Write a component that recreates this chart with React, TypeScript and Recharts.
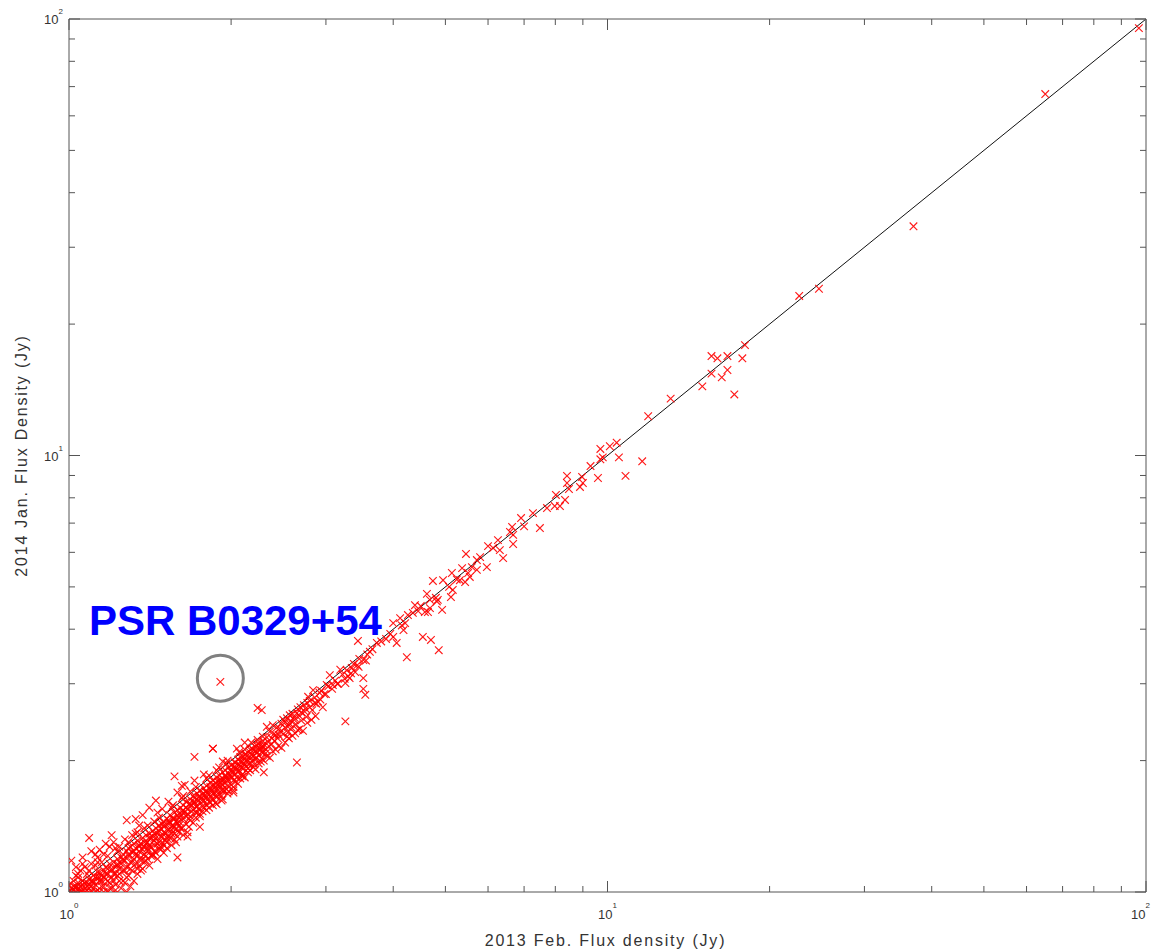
import React from "react";
import {
  ScatterChart,
  Scatter,
  XAxis,
  YAxis,
  ReferenceLine,
  ReferenceDot,
} from "recharts";

type Pair = [number, number];

// [2013 Feb flux, 2014 Jan flux] in Jy
const faintA: Pair[] = [
  [1.0, 1.0], [1.01, 1.0], [1.02, 1.01], [1.01, 1.02], [1.03, 1.0], [1.03, 1.02], [1.04, 1.01],
  [1.05, 1.03], [1.04, 1.05], [1.06, 1.0], [1.06, 1.04], [1.07, 1.02], [1.08, 1.05], [1.08, 1.01],
  [1.09, 1.07], [1.1, 1.03], [1.1, 1.06], [1.11, 1.09], [1.12, 1.04], [1.12, 1.08], [1.13, 1.01],
  [1.13, 1.11], [1.14, 1.06], [1.15, 1.09], [1.15, 1.03], [1.16, 1.12], [1.17, 1.07], [1.17, 1.14],
  [1.18, 1.1], [1.19, 1.05], [1.19, 1.16], [1.2, 1.12], [1.2, 1.08], [1.21, 1.17], [1.22, 1.14],
  [1.22, 1.1], [1.23, 1.19], [1.24, 1.13], [1.24, 1.06], [1.25, 1.2], [1.25, 1.16],
  [1.01, 1.18], [1.09, 1.33], [1.17, 1.29], [1.05, 1.12], [1.12, 1.22], [1.14, 1.25], [1.07, 1.14],
  [1.21, 1.3], [1.03, 1.09], [1.19, 1.27], [1.27, 1.05], [1.16, 1.03], [1.1, 1.0], [1.2, 1.02],
  [1.05, 1.0], [1.14, 1.0], [1.22, 1.04], [1.04, 1.1], [1.1, 1.16], [1.16, 1.22], [1.22, 1.26],
  [1.27, 1.32], [1.06, 1.16], [1.13, 1.2],
];

const faintB: Pair[] = [
  [1.26, 1.22], [1.27, 1.18], [1.28, 1.24], [1.28, 1.14], [1.29, 1.21], [1.3, 1.27], [1.3, 1.17],
  [1.31, 1.23], [1.32, 1.29], [1.32, 1.19], [1.33, 1.26], [1.34, 1.21], [1.34, 1.31], [1.35, 1.24],
  [1.36, 1.29], [1.36, 1.18], [1.37, 1.33], [1.38, 1.27], [1.38, 1.22], [1.39, 1.35], [1.4, 1.3],
  [1.4, 1.24], [1.41, 1.36], [1.42, 1.33], [1.42, 1.27], [1.43, 1.38], [1.44, 1.31], [1.44, 1.24],
  [1.45, 1.4], [1.46, 1.36], [1.46, 1.29], [1.47, 1.42], [1.48, 1.34], [1.48, 1.4], [1.49, 1.3],
  [1.5, 1.45], [1.5, 1.37], [1.51, 1.42], [1.52, 1.33], [1.52, 1.47], [1.53, 1.39], [1.54, 1.44],
  [1.54, 1.5], [1.55, 1.36], [1.56, 1.48], [1.56, 1.42], [1.57, 1.52], [1.58, 1.45], [1.58, 1.39],
  [1.59, 1.54], [1.6, 1.48], [1.6, 1.42],
  [1.28, 1.46], [1.41, 1.56], [1.53, 1.61], [1.59, 1.69], [1.64, 1.76], [1.35, 1.42], [1.46, 1.52],
  [1.31, 1.35], [1.49, 1.55], [1.52, 1.26], [1.59, 1.2], [1.66, 1.34], [1.59, 1.34], [1.66, 1.37],
  [1.43, 1.22], [1.57, 1.32], [1.36, 1.12], [1.48, 1.25],
];

const faintC: Pair[] = [
  [1.61, 1.56], [1.62, 1.5], [1.63, 1.58], [1.64, 1.52], [1.65, 1.61], [1.66, 1.55], [1.67, 1.47],
  [1.68, 1.63], [1.69, 1.58], [1.7, 1.66], [1.71, 1.6], [1.72, 1.52], [1.73, 1.68], [1.74, 1.62],
  [1.75, 1.71], [1.76, 1.64], [1.77, 1.57], [1.78, 1.73], [1.79, 1.67], [1.8, 1.75], [1.81, 1.68],
  [1.82, 1.61], [1.83, 1.78], [1.84, 1.71], [1.85, 1.8], [1.86, 1.73], [1.87, 1.66], [1.88, 1.83],
  [1.89, 1.76], [1.9, 1.85], [1.91, 1.78], [1.92, 1.71], [1.93, 1.88], [1.94, 1.81], [1.95, 1.9],
  [1.96, 1.83], [1.97, 1.75], [1.98, 1.93], [1.99, 1.85], [2.0, 1.95], [2.01, 1.88], [2.02, 1.8],
  [2.04, 1.98], [2.05, 1.91], [2.06, 2.01], [2.08, 1.94], [2.09, 1.85], [2.1, 2.04], [2.11, 1.97],
  [2.13, 2.07], [2.14, 1.99], [2.15, 1.92], [2.16, 2.1], [2.18, 2.03], [2.19, 2.13], [2.2, 2.05],
  [2.21, 1.96], [2.23, 2.17], [2.24, 2.09], [2.25, 2.19], [2.27, 2.12], [2.28, 2.02], [2.29, 2.22],
  [2.3, 2.15],
  [1.8, 1.54], [1.92, 1.62], [2.02, 1.69], [1.75, 1.51], [1.88, 1.59], [2.1, 1.84], [1.97, 1.68],
  [1.85, 1.58], [1.71, 1.8], [1.85, 2.13], [1.93, 1.99], [2.05, 2.13], [1.78, 1.86], [2.12, 2.2],
  [1.71, 2.04], [1.57, 1.84], [1.93, 1.63], [1.75, 1.41], [2.02, 1.71], [1.85, 2.13],
];

const faintFill: Pair[] = [
  [1.02, 1.03], [1.04, 1.02], [1.06, 1.06], [1.07, 1.05], [1.09, 1.04], [1.11, 1.06], [1.11, 1.02],
  [1.13, 1.08], [1.14, 1.11], [1.16, 1.08], [1.18, 1.13], [1.18, 1.06], [1.21, 1.1], [1.23, 1.15],
  [1.23, 1.09], [1.26, 1.18], [1.27, 1.12], [1.29, 1.26], [1.31, 1.17], [1.33, 1.22], [1.35, 1.28],
  [1.37, 1.25], [1.39, 1.29], [1.39, 1.21], [1.41, 1.28], [1.43, 1.34], [1.45, 1.33], [1.47, 1.3],
  [1.49, 1.43], [1.51, 1.36], [1.53, 1.46], [1.55, 1.41], [1.57, 1.47], [1.59, 1.44], [1.61, 1.5],
  [1.63, 1.54], [1.65, 1.49], [1.67, 1.59], [1.69, 1.53], [1.71, 1.64], [1.73, 1.57], [1.75, 1.66],
  [1.77, 1.63], [1.79, 1.7], [1.81, 1.63], [1.83, 1.74], [1.85, 1.68], [1.87, 1.78], [1.89, 1.71],
  [1.91, 1.81], [1.93, 1.76], [1.95, 1.84], [1.97, 1.8], [1.99, 1.9], [2.01, 1.83], [2.03, 1.94],
  [2.06, 1.88], [2.08, 1.99], [2.11, 1.92], [2.14, 2.05], [2.17, 1.98], [2.2, 2.11], [2.23, 2.03],
  [2.26, 2.16], [2.29, 2.08],
  [1.08, 1.1], [1.15, 1.17], [1.24, 1.27], [1.33, 1.36], [1.44, 1.45], [1.56, 1.58], [1.68, 1.7],
  [1.82, 1.85], [1.96, 1.97], [2.12, 2.12], [1.02, 1.06], [1.12, 1.15], [1.38, 1.4], [1.62, 1.64],
  [1.9, 1.93],
];

// lower edge of the dense band (2014 noticeably fainter)
const faintLow: Pair[] = [
  [1.18, 1.0], [1.22, 1.01], [1.25, 1.02], [1.28, 1.0], [1.3, 1.03], [1.26, 1.06], [1.29, 1.09],
  [1.32, 1.06], [1.31, 1.12], [1.34, 1.1], [1.35, 1.15], [1.37, 1.13], [1.38, 1.17], [1.4, 1.19],
  [1.41, 1.15], [1.43, 1.21], [1.45, 1.23], [1.46, 1.19], [1.48, 1.27], [1.5, 1.28], [1.5, 1.23],
  [1.52, 1.3], [1.54, 1.33], [1.55, 1.28], [1.57, 1.36], [1.58, 1.3], [1.6, 1.37], [1.62, 1.4],
  [1.63, 1.35], [1.65, 1.43], [1.67, 1.41], [1.68, 1.46], [1.7, 1.44], [1.72, 1.48], [1.73, 1.52],
  [1.75, 1.49], [1.77, 1.53], [1.78, 1.56], [1.8, 1.58], [1.82, 1.56], [1.83, 1.6], [1.85, 1.63],
  [1.87, 1.6], [1.88, 1.65], [1.9, 1.67], [1.92, 1.66], [1.94, 1.7], [1.96, 1.72], [1.98, 1.7],
  [2.0, 1.76], [2.02, 1.74], [2.04, 1.79], [2.06, 1.77], [2.08, 1.82], [2.1, 1.86], [2.12, 1.83],
  [2.15, 1.88], [2.17, 1.9], [2.2, 1.93], [2.22, 1.91], [2.25, 1.97], [2.27, 1.99], [2.3, 2.0],
  [2.33, 2.05], [2.36, 2.03], [2.39, 2.1], [2.42, 2.12], [2.45, 2.16], [2.48, 2.14], [2.52, 2.2],
  [2.56, 2.25], [2.6, 2.28], [2.63, 2.31], [2.68, 2.36], [2.72, 2.34], [2.77, 2.44], [2.82, 2.48],
  [2.87, 2.53],
];

// middle of the dense band, just under the 1:1 line
const faintMid: Pair[] = [
  [1.05, 1.01], [1.08, 1.03], [1.11, 1.05], [1.14, 1.08], [1.17, 1.1], [1.2, 1.13], [1.23, 1.16],
  [1.26, 1.19], [1.29, 1.22], [1.32, 1.24], [1.35, 1.27], [1.38, 1.3], [1.41, 1.33], [1.44, 1.36],
  [1.47, 1.38], [1.5, 1.41], [1.53, 1.44], [1.56, 1.47], [1.59, 1.5], [1.62, 1.53], [1.65, 1.56],
  [1.68, 1.59], [1.71, 1.61], [1.74, 1.65], [1.77, 1.67], [1.8, 1.7], [1.83, 1.72], [1.86, 1.76],
  [1.89, 1.79], [1.92, 1.8], [1.95, 1.85], [1.98, 1.87], [2.01, 1.9], [2.04, 1.92], [2.07, 1.96],
  [2.1, 1.99], [2.14, 2.01], [2.18, 2.06], [2.22, 2.1], [2.26, 2.13], [2.3, 2.18], [2.34, 2.21],
  [2.38, 2.25], [2.42, 2.29], [2.47, 2.33], [2.52, 2.38], [2.57, 2.43], [2.62, 2.48], [2.68, 2.53],
  [2.74, 2.59], [2.8, 2.65], [2.86, 2.71], [2.93, 2.76], [3.0, 2.84], [3.08, 2.92], [3.16, 3.0],
  [3.25, 3.08], [3.34, 3.17], [3.45, 3.28], [3.56, 3.39],
];

// more of the crowded 1-2.8 Jy region, both sides of the line
const faintExtra: Pair[] = [
  [1.03, 1.03], [1.07, 1.0], [1.09, 1.02], [1.12, 1.0], [1.15, 1.06], [1.16, 1.0], [1.19, 1.02],
  [1.21, 1.06], [1.24, 1.1], [1.26, 1.12], [1.28, 1.08], [1.3, 1.13], [1.33, 1.16], [1.34, 1.13],
  [1.36, 1.2], [1.39, 1.18], [1.4, 1.26], [1.42, 1.21], [1.44, 1.28], [1.47, 1.26], [1.49, 1.34],
  [1.51, 1.31], [1.53, 1.35], [1.55, 1.39], [1.57, 1.41], [1.6, 1.45], [1.61, 1.4], [1.63, 1.47],
  [1.66, 1.51], [1.68, 1.49], [1.7, 1.54], [1.72, 1.57], [1.74, 1.55], [1.76, 1.6], [1.78, 1.62],
  [1.8, 1.65], [1.82, 1.67], [1.84, 1.65], [1.86, 1.69], [1.88, 1.73], [1.91, 1.75], [1.93, 1.72],
  [1.95, 1.78], [1.97, 1.82], [2.0, 1.84], [2.03, 1.86], [2.05, 1.83], [2.07, 1.9], [2.09, 1.93],
  [2.12, 1.95], [2.16, 1.96], [2.19, 2.0], [2.22, 2.02], [2.25, 2.06], [2.28, 2.09], [2.32, 2.12],
  [2.35, 2.16], [2.38, 2.18], [2.41, 2.22], [2.44, 2.25], [2.5, 2.3], [2.55, 2.32], [2.59, 2.38],
  [2.64, 2.42], [2.7, 2.47], [2.76, 2.52],
  [1.0, 1.04], [1.04, 1.08], [1.09, 1.12], [1.13, 1.17], [1.18, 1.21], [1.23, 1.24], [1.29, 1.3],
  [1.34, 1.37], [1.4, 1.42], [1.47, 1.48], [1.55, 1.56], [1.63, 1.66], [1.72, 1.74], [1.8, 1.82],
  [1.88, 1.9], [1.97, 2.0], [2.07, 2.09], [2.18, 2.2], [1.06, 1.2], [1.2, 1.35], [1.33, 1.47],
  [1.45, 1.62], [1.62, 1.75], [1.37, 1.5], [1.1, 1.24], [1.03, 1.14],
];

const midD: Pair[] = [
  [2.33, 2.26], [2.36, 2.33], [2.39, 2.41], [2.33, 2.39], [2.46, 2.37], [2.5, 2.48], [2.55, 2.39],
  [2.57, 2.54], [2.65, 2.57], [2.69, 2.65], [2.77, 2.71], [2.78, 2.8], [2.83, 2.61], [2.84, 2.9],
  [2.9, 2.73], [2.92, 2.86], [2.96, 2.65], [3.01, 2.98], [3.05, 3.14], [3.09, 2.98], [3.19, 3.23],
  [3.26, 3.01], [3.32, 3.09], [3.35, 3.26], [3.4, 3.19], [3.43, 3.31], [3.44, 3.76], [3.52, 3.4],
  [3.52, 3.09], [3.52, 2.92], [3.55, 2.83], [3.62, 3.55], [3.73, 3.72], [2.22, 2.15], [2.24, 2.23],
  [2.29, 2.27], [2.17, 2.12], [2.12, 2.06], [2.08, 2.04], [2.03, 1.98], [2.15, 1.92], [2.28, 2.15],
  [2.4, 2.3], [2.43, 2.38], [2.45, 2.29], [2.48, 2.43], [2.52, 2.45], [2.54, 2.5], [2.58, 2.47],
  [2.6, 2.56], [2.62, 2.51], [2.66, 2.62], [2.7, 2.58], [2.73, 2.68], [2.75, 2.63], [2.8, 2.74],
  [2.86, 2.79], [2.88, 2.7], [2.94, 2.89], [2.98, 2.84], [3.03, 2.96], [3.12, 3.05], [3.15, 3.0],
  [3.22, 3.15], [3.28, 3.22], [3.3, 3.12], [3.38, 3.33], [3.46, 3.42], [3.58, 3.5], [3.66, 3.6],
  [3.8, 3.75], [3.88, 3.8], [3.95, 3.9],
  [2.24, 2.64], [2.28, 2.61], [2.32, 2.08], [2.65, 1.98], [2.3, 1.88], [2.66, 2.35], [2.54, 2.27],
  [3.26, 2.46],
];

const brightE: Pair[] = [
  [4.74, 5.16], [4.95, 5.18], [5.08, 5.0], [5.16, 4.92], [5.12, 4.74], [4.62, 4.82], [4.68, 4.67],
  [4.84, 4.67], [4.93, 4.43], [4.58, 4.38], [4.68, 4.47], [4.39, 4.54], [4.26, 4.31], [4.35, 4.36],
  [4.12, 4.24], [4.0, 4.13], [4.21, 4.13], [4.18, 3.98], [4.0, 3.84], [4.06, 3.72], [4.54, 3.84],
  [4.7, 3.78], [4.86, 3.58], [4.24, 3.45], [4.82, 4.63], [4.64, 4.38], [4.45, 4.4], [4.8, 4.72],
  [5.25, 5.2], [5.6, 5.55], [4.15, 4.08], [4.5, 4.52],
  [5.14, 5.38], [5.32, 5.18], [5.44, 5.13], [5.55, 5.27], [5.37, 5.52], [5.51, 5.38], [5.46, 5.95],
  [5.72, 5.76], [5.97, 5.55], [5.72, 5.47], [5.8, 5.85], [6.4, 5.82], [6.0, 6.2], [6.13, 6.14],
  [6.31, 6.07], [6.68, 6.27], [6.26, 6.4], [6.59, 6.68], [6.65, 6.86], [6.68, 6.58], [7.0, 6.88],
  [6.91, 7.19], [7.49, 6.82], [7.27, 7.38], [7.72, 7.58], [7.98, 7.66], [8.16, 7.66], [8.34, 7.91],
  [8.02, 8.12], [8.48, 8.38], [8.41, 8.65], [8.41, 8.98], [8.89, 8.47], [9.0, 8.65], [8.97, 8.93],
  [9.3, 9.46], [9.6, 8.88], [10.8, 8.98], [9.8, 9.9], [9.7, 9.8], [10.5, 9.9], [9.7, 10.35],
  [10.1, 10.5], [10.4, 10.7], [11.6, 9.7], [11.9, 12.3], [13.1, 13.5],
];

const brightF: Pair[] = [
  [15.0, 14.4], [17.2, 13.8], [15.6, 16.9], [16.0, 16.7], [16.7, 16.9], [17.8, 16.7], [15.6, 15.4],
  [16.7, 15.7], [16.3, 15.1], [18.0, 17.9], [22.7, 23.2], [24.7, 24.1], [37, 33.5], [65, 67.3],
  [97, 95.3],
];

// the pulsar sitting above the 1:1 line
const pulsar: Pair[] = [[1.91, 3.03]];
const pulsarName = "PSR B0329+54";

const axisTicks = [1, 2, 3, 4, 5, 6, 7, 8, 9, 10, 20, 30, 40, 50, 60, 70, 80, 90, 100];
const decades = [1, 10, 100];

const xTitle = "2013 Feb. Flux density (Jy)";
const yTitle = "2014 Jan. Flux Density (Jy)";

const data = [
  ...faintA, ...faintB, ...faintC, ...faintFill, ...faintLow, ...faintMid, ...faintExtra,
  ...midD, ...brightE, ...brightF, ...pulsar,
].map(([feb, jan]) => ({ feb, jan }));

const AXIS = "#555";
const FONT = "'Liberation Sans', Arial, Helvetica, sans-serif";

const isMajor = (v: number) => decades.includes(v);
const expOf = (v: number) => Math.round(Math.log10(v));

function BottomTick(props: any) {
  const { x, y, payload } = props;
  const v = payload.value;
  const last = v === decades[decades.length - 1];
  return (
    <g>
      <line x1={x} x2={x} y1={y} y2={y - (isMajor(v) ? 11 : 6)} stroke={AXIS} />
      {isMajor(v) && (
        <text
          x={last ? x + 4 : x}
          y={y + 27}
          textAnchor={last ? "end" : "middle"}
          fontFamily={FONT}
          fontSize={13}
          fill="#333"
        >
          <tspan>10</tspan>
          <tspan dy={-11} fontSize={8}>{expOf(v)}</tspan>
        </text>
      )}
    </g>
  );
}

function TopTick(props: any) {
  const { x, y, payload } = props;
  return <line x1={x} x2={x} y1={y} y2={y + (isMajor(payload.value) ? 11 : 6)} stroke={AXIS} />;
}

function LeftTick(props: any) {
  const { x, y, payload } = props;
  const v = payload.value;
  return (
    <g>
      <line x1={x} x2={x + (isMajor(v) ? 11 : 6)} y1={y} y2={y} stroke={AXIS} />
      {isMajor(v) && (
        <text x={x - 6} y={y + 5} textAnchor="end" fontFamily={FONT} fontSize={13} fill="#333">
          <tspan>10</tspan>
          <tspan dy={-10} fontSize={8}>{expOf(v)}</tspan>
        </text>
      )}
    </g>
  );
}

function RightTick(props: any) {
  const { x, y, payload } = props;
  return <line x1={x} x2={x - (isMajor(payload.value) ? 11 : 6)} y1={y} y2={y} stroke={AXIS} />;
}

function Cross(props: any) {
  const { cx, cy } = props;
  if (cx == null || cy == null) return null;
  const s = 3.8;
  return (
    <path
      d={`M${cx - s},${cy - s}L${cx + s},${cy + s}M${cx - s},${cy + s}L${cx + s},${cy - s}`}
      stroke="#ff0000"
      strokeOpacity={0.9}
      strokeWidth={1.15}
      fill="none"
    />
  );
}

export default function App() {
  return (
    <div style={{ position: "absolute", left: 0, top: 0, background: "#fff" }}>
      <ScatterChart width={1151} height={951} margin={{ top: 0, right: 0, bottom: 0, left: 0 }}>
        <XAxis
          xAxisId="b"
          dataKey="feb"
          type="number"
          scale="log"
          domain={[1, 100]}
          allowDataOverflow
          ticks={axisTicks}
          interval={0}
          height={59}
          tickSize={0}
          tickMargin={0}
          tickLine={false}
          axisLine={{ stroke: AXIS }}
          tick={<BottomTick />}
          label={{
            content: (p: any) => {
              const vb = p.viewBox;
              return (
                <text
                  x={vb.x + vb.width / 2 - 2}
                  y={vb.y + vb.height - 5}
                  textAnchor="middle"
                  fontFamily={FONT}
                  fontSize={16}
                  letterSpacing={1.8}
                  fill="#333"
                >
                  {xTitle}
                </text>
              );
            },
          }}
        />
        <XAxis
          xAxisId="t"
          orientation="top"
          dataKey="feb"
          type="number"
          scale="log"
          domain={[1, 100]}
          allowDataOverflow
          ticks={axisTicks}
          interval={0}
          height={19}
          tickSize={0}
          tickMargin={0}
          tickLine={false}
          axisLine={{ stroke: AXIS }}
          tick={<TopTick />}
        />
        <YAxis
          yAxisId="l"
          dataKey="jan"
          type="number"
          scale="log"
          domain={[1, 100]}
          allowDataOverflow
          ticks={axisTicks}
          interval={0}
          width={69}
          tickSize={0}
          tickMargin={0}
          tickLine={false}
          axisLine={{ stroke: AXIS }}
          tick={<LeftTick />}
          label={{
            content: (p: any) => {
              const vb = p.viewBox;
              const cy = vb.y + vb.height / 2;
              const bx = 27;
              return (
                <text
                  x={bx}
                  y={cy}
                  transform={`rotate(-90, ${bx}, ${cy})`}
                  textAnchor="middle"
                  fontFamily={FONT}
                  fontSize={16}
                  letterSpacing={1.8}
                  fill="#333"
                >
                  {yTitle}
                </text>
              );
            },
          }}
        />
        <YAxis
          yAxisId="r"
          orientation="right"
          dataKey="jan"
          type="number"
          scale="log"
          domain={[1, 100]}
          allowDataOverflow
          ticks={axisTicks}
          interval={0}
          width={5}
          tickSize={0}
          tickMargin={0}
          tickLine={false}
          axisLine={{ stroke: AXIS }}
          tick={<RightTick />}
        />
        <Scatter
          xAxisId="b"
          yAxisId="l"
          data={data}
          shape={<Cross />}
          isAnimationActive={false}
        />
        <ReferenceLine
          xAxisId="b"
          yAxisId="l"
          segment={[
            { x: 1, y: 1 },
            { x: 100, y: 100 },
          ]}
          stroke="#111"
          strokeWidth={1}
        />
        <ReferenceDot
          xAxisId="b"
          yAxisId="l"
          x={pulsar[0][0]}
          y={3.09}
          r={23}
          fill="none"
          stroke="#808080"
          strokeWidth={3}
        />
        <ReferenceDot
          xAxisId="b"
          yAxisId="l"
          x={1.089}
          y={3.88}
          r={0}
          fill="none"
          stroke="none"
          label={{
            content: (p: any) => {
              const vb = p.viewBox;
              return (
                <text
                  x={vb.x}
                  y={vb.y}
                  fontFamily={FONT}
                  fontWeight="bold"
                  fontSize={42}
                  fill="#0000ff"
                >
                  {pulsarName}
                </text>
              );
            },
          }}
        />
      </ScatterChart>
    </div>
  );
}
